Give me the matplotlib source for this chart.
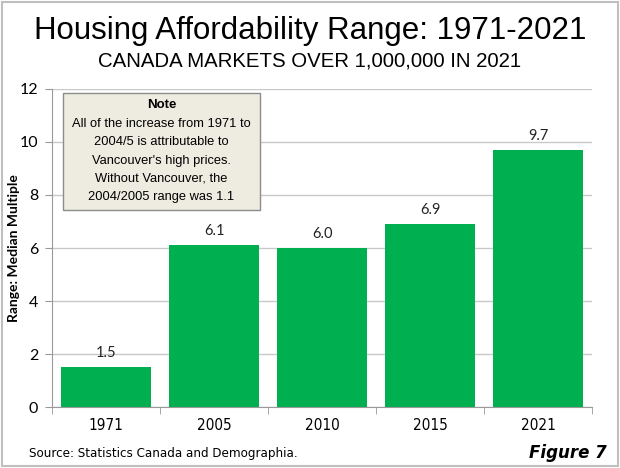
"""Housing affordability range bar chart, Canada markets over 1M."""

import matplotlib

matplotlib.use("Agg")
import matplotlib.pyplot as plt
from matplotlib import font_manager
from matplotlib.font_manager import FontProperties
from matplotlib.patches import Rectangle

years = ["1971", "2005", "2010", "2015", "2021"]
ranges = [1.5, 6.1, 6.0, 6.9, 9.7]

title = "Housing Affordability Range: 1971-2021"
subtitle = "CANADA MARKETS OVER 1,000,000 IN 2021"
note_head = "Note"
note_body = ("All of the increase from 1971 to\n2004/5 is attributable to\n"
             "Vancouver's high prices.\nWithout Vancouver, the\n"
             "2004/2005 range was 1.1")
source = "Source: Statistics Canada and Demographia."
fig_label = "Figure 7"


def narrow_font(size, weight="normal", style="normal"):
    """Condensed DejaVu if it is there, else plain Liberation Sans."""
    for f in font_manager.fontManager.ttflist:
        if (f.name == "DejaVu Sans" and f.stretch == "condensed"
                and f.style == style and f.weight == (700 if weight == "bold" else 400)):
            return FontProperties(fname=f.fname, size=size)
    return FontProperties(family="Liberation Sans", size=size * 0.9,
                          weight=weight, style=style)


sans = "Liberation Sans"
bar_color = "#00B050"
grid_color = "#C8C8C8"

fig = plt.figure(figsize=(6.2, 4.68), dpi=100)
ax = fig.add_axes([0.084, 0.130, 0.871, 0.680])

x = list(range(len(years)))
bars = ax.bar(x, ranges, width=0.83, color=bar_color, zorder=2)

for rect, val in zip(bars, ranges):
    ax.annotate(f"{val:.1f}", (rect.get_x() + rect.get_width() / 2, val),
                xytext=(0, 5), textcoords="offset points", ha="center",
                va="bottom", fontsize=10.5, family="Lato", color="#222222")

ax.set_xlim(-0.5, len(years) - 0.5)
ax.set_ylim(0, 12)
ax.set_yticks(range(0, 13, 2))
ax.yaxis.grid(True, color=grid_color, linewidth=1, zorder=0)
ax.set_axisbelow(True)

ax.set_xticks(x)
ax.set_xticklabels(years)
ax.set_xticks([i - 0.5 for i in range(len(years) + 1)], minor=True)
ax.tick_params(axis="x", which="major", length=0, pad=8)
ax.tick_params(axis="x", which="minor", length=5, color="#999999")
ax.tick_params(axis="y", length=5, color="#999999", pad=5)
for lab in ax.get_xticklabels():
    lab.set_fontproperties(narrow_font(11))
for lab in ax.get_yticklabels():
    lab.set_family("Lato")
    lab.set_fontsize(11.5)

for side in ("top", "right"):
    ax.spines[side].set_visible(False)
for side in ("left", "bottom"):
    ax.spines[side].set_color("#999999")

ax.set_ylabel("Range: Median Multiple", family="Lato", fontweight="bold",
              fontsize=10)
ax.yaxis.label.set_va("center")
ax.yaxis.set_label_coords(-0.07, 0.5)

fig.text(0.5, 0.933, title, ha="center", va="center", fontsize=22.5, family=sans)
fig.text(0.5, 0.869, subtitle, ha="center", va="center", fontsize=14.7,
         family=sans)

# note box
ax.add_patch(Rectangle((0.020, 0.619), 0.365, 0.368, transform=ax.transAxes,
                       facecolor="#EEECE1", edgecolor="#8C8C8C", linewidth=1,
                       zorder=4))
ax.text(0.2025, 0.950, note_head, transform=ax.transAxes, ha="center",
        va="center", fontsize=9.5, fontweight="bold", family=sans, zorder=5)
ax.text(0.2025, 0.775, note_body, transform=ax.transAxes, ha="center",
        va="center", fontsize=9.3, family=sans, linespacing=1.68, zorder=5)

fig.text(0.046, 0.032, source, ha="left", va="center",
         fontproperties=narrow_font(9.5))
fig.text(0.979, 0.032, fig_label, ha="right", va="center",
         fontproperties=narrow_font(13.3, "bold", "oblique"))

fig.patches.append(Rectangle((0.004, 0.004), 0.992, 0.992,
                             transform=fig.transFigure, fill=False,
                             edgecolor="#BFBFBF", linewidth=1.5))

fig.savefig("out.png", dpi=100)
